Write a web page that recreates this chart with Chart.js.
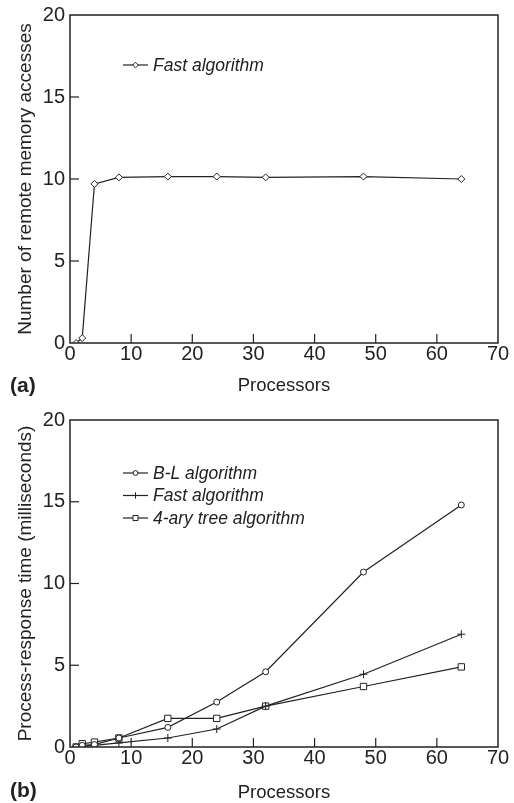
<!DOCTYPE html>
<html>
<head>
<meta charset="utf-8">
<script src="https://cdn.jsdelivr.net/npm/chart.js@4.4.1/dist/chart.umd.min.js"></script>
<style>
  html, body { margin: 0; padding: 0; background: #fff; }
  .panel { position: absolute; left: 0; }
  #panelA { top: 0; }
  #panelB { top: 400px; }
</style>
</head>
<body>
<div class="panel" id="panelA"><canvas id="chartA" width="514" height="400"></canvas></div>
<div class="panel" id="panelB"><canvas id="chartB" width="514" height="403"></canvas></div>
<script>
// ===== data =====
const processors = [1, 2, 4, 8, 16, 24, 32, 48, 64];

// (a) remote memory accesses
const remoteFast = [0, 0.3, 9.7, 10.1, 10.15, 10.15, 10.1, 10.15, 10.0];

// (b) process-response time, ms
const responseBL = [0, 0.1, 0.15, 0.55, 1.2, 2.75, 4.6, 10.7, 14.8];
const responseFast = [0, 0.05, 0.1, 0.25, 0.55, 1.1, 2.5, 4.45, 6.9];
const responseAry = [0, 0.2, 0.3, 0.55, 1.75, 1.75, 2.5, 3.7, 4.9];

const xTicks = [0, 10, 20, 30, 40, 50, 60, 70];
const yTicks = [0, 5, 10, 15, 20];

const INK = '#222';
const FONT = '"Liberation Sans", Arial, sans-serif';

// frame, inward tick marks, legend and panel letter
const figureDecor = {
  id: 'figureDecor',
  afterDraw(chart, args, opts) {
    const { ctx, chartArea: a, scales } = chart;
    ctx.save();
    ctx.strokeStyle = INK;
    ctx.lineWidth = 1.5;
    ctx.strokeRect(a.left, a.top, a.right - a.left, a.bottom - a.top);

    ctx.lineWidth = 1.2;
    xTicks.slice(1, -1).forEach(v => {
      const px = scales.x.getPixelForValue(v);
      ctx.beginPath();
      ctx.moveTo(px, a.bottom);
      ctx.lineTo(px, a.bottom - 9);
      ctx.stroke();
    });
    yTicks.slice(1, -1).forEach(v => {
      const py = scales.y.getPixelForValue(v);
      ctx.beginPath();
      ctx.moveTo(a.left, py);
      ctx.lineTo(a.left + 9, py);
      ctx.stroke();
    });

    // legend
    ctx.font = 'italic 17.5px ' + FONT;
    ctx.textBaseline = 'middle';
    ctx.textAlign = 'left';
    chart.data.datasets.forEach((ds, i) => {
      const y = opts.legendY + i * opts.rowGap;
      ctx.strokeStyle = INK;
      ctx.lineWidth = 1.2;
      ctx.beginPath();
      ctx.moveTo(123, y);
      ctx.lineTo(148, y);
      ctx.stroke();
      ctx.fillStyle = '#fff';
      ctx.lineWidth = 1;
      Chart.helpers.drawPoint(ctx, {
        pointStyle: ds.pointStyle,
        radius: ds.pointRadius * 0.8,
        rotation: 0,
        borderWidth: 1
      }, 135.5, y);
      ctx.fillStyle = INK;
      ctx.fillText(ds.label, 153, y + 1);
    });

    // panel letter
    ctx.font = 'bold 21px ' + FONT;
    ctx.fillStyle = INK;
    ctx.fillText(opts.panel, 10, opts.panelY);
    ctx.restore();
  }
};

function makeSeries(label, values, style, radius) {
  return {
    label: label,
    data: processors.map((p, i) => ({ x: p, y: values[i] })),
    borderColor: INK,
    borderWidth: 1.2,
    pointStyle: style,
    pointRadius: radius,
    pointBorderColor: INK,
    pointBackgroundColor: '#fff',
    pointBorderWidth: 1,
    tension: 0
  };
}

function makeOptions(yTitle, chartTop, scaleHeight, titlePadBottom, decor) {
  return {
    responsive: false,
    animation: false,
    layout: { padding: { left: 0, top: chartTop, right: 16, bottom: 0 } },
    plugins: {
      legend: { display: false },
      tooltip: { enabled: false },
      figureDecor: decor
    },
    scales: {
      x: {
        type: 'linear',
        min: 0,
        max: 70,
        afterBuildTicks: s => { s.ticks = xTicks.map(v => ({ value: v })); },
        afterFit: s => { s.height = scaleHeight; },
        grid: { display: false, drawTicks: false },
        border: { display: false },
        ticks: { color: INK, padding: 1, font: { family: FONT, size: 20, lineHeight: 1 } },
        title: {
          display: true,
          text: 'Processors',
          color: INK,
          padding: { top: 0, bottom: titlePadBottom },
          font: { family: FONT, size: 18.5, lineHeight: 1 }
        }
      },
      y: {
        min: 0,
        max: 20,
        afterBuildTicks: s => { s.ticks = yTicks.map(v => ({ value: v })); },
        afterFit: s => { s.width = 70; },
        grid: { display: false, drawTicks: false },
        border: { display: false },
        ticks: { color: INK, padding: 5, font: { family: FONT, size: 20, lineHeight: 1 } },
        title: {
          display: true,
          text: yTitle,
          color: INK,
          padding: { top: 16, bottom: 0 },
          font: { family: FONT, size: 19, lineHeight: 1 }
        }
      }
    }
  };
}

new Chart(document.getElementById('chartA'), {
  type: 'line',
  data: {
    datasets: [makeSeries('Fast algorithm', remoteFast, 'rectRot', 3.5)]
  },
  options: makeOptions('Number of remote memory accesses', 15, 57, 5,
    { legendY: 65, rowGap: 22.5, panel: '(a)', panelY: 386 }),
  plugins: [figureDecor]
});

new Chart(document.getElementById('chartB'), {
  type: 'line',
  data: {
    datasets: [
      makeSeries('B-L algorithm', responseBL, 'circle', 3),
      makeSeries('Fast algorithm', responseFast, 'cross', 4),
      makeSeries('4-ary tree algorithm', responseAry, 'rect', 4.5)
    ]
  },
  options: makeOptions('Process-response time (milliseconds)', 20, 56, 1,
    { legendY: 73, rowGap: 22.5, panel: '(b)', panelY: 391 }),
  plugins: [figureDecor]
});
</script>
</body>
</html>
